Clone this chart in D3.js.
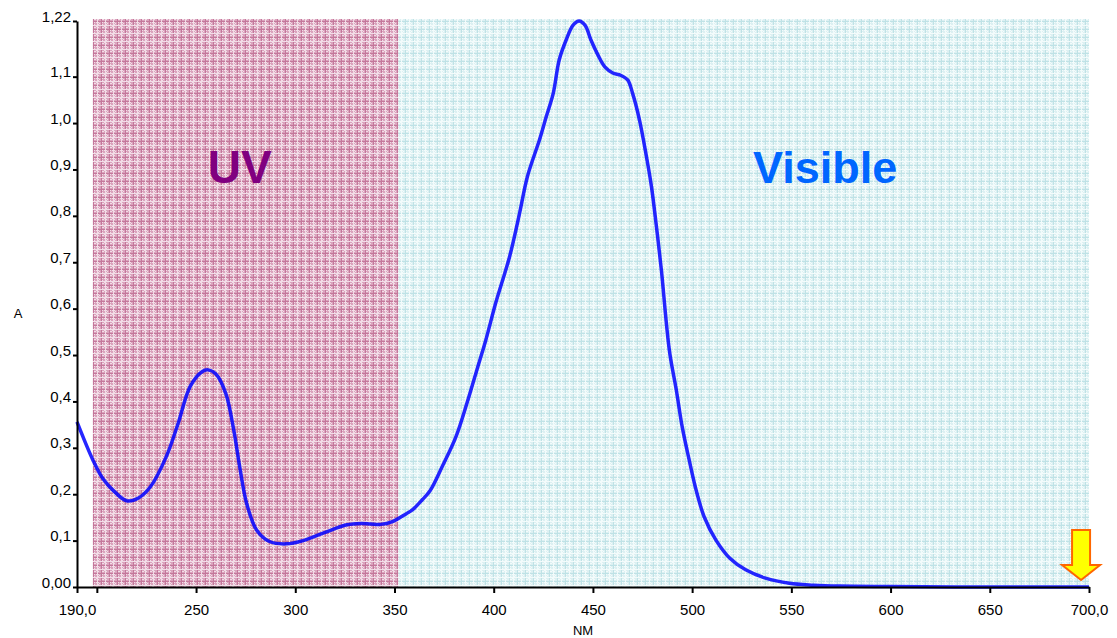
<!DOCTYPE html>
<meta charset="utf-8">
<script src="https://d3js.org/d3.v7.min.js"></script>
<style>
  body { margin: 0; background: #fff; }
  svg { display: block; font-family: "Liberation Sans", Arial, sans-serif; }
</style>
<div id="chart"></div>
<script>
  // spectrum: wavelength (nm) and absorbance (A)
  const wavelengths = [190, 198, 203, 209, 215, 221, 227, 235, 241, 247, 253, 256, 260, 265, 269, 272, 275.5, 280.5, 287, 295.5, 304, 314, 326, 333, 338, 343, 349, 356, 359, 364, 368, 374, 381, 387, 392, 396, 401, 408, 413, 417, 423, 426.5, 430, 433, 436.5, 440, 443, 446, 449, 452.5, 456, 460, 464, 467.5, 470, 473.5, 477, 479.5, 482, 484.5, 488.5, 492, 495, 498.5, 502, 506, 512, 519, 527, 537, 549, 561, 574, 600, 650, 700];
  const absorbance  = [0.356, 0.274, 0.234, 0.205, 0.186, 0.192, 0.216, 0.281, 0.353, 0.432, 0.464, 0.468, 0.459, 0.417, 0.338, 0.259, 0.180, 0.123, 0.098, 0.093, 0.100, 0.116, 0.134, 0.137, 0.136, 0.135, 0.141, 0.158, 0.166, 0.188, 0.208, 0.259, 0.324, 0.403, 0.475, 0.532, 0.612, 0.712, 0.805, 0.885, 0.963, 1.014, 1.064, 1.136, 1.179, 1.211, 1.220, 1.211, 1.179, 1.147, 1.121, 1.108, 1.103, 1.093, 1.064, 1.006, 0.927, 0.863, 0.777, 0.683, 0.511, 0.425, 0.345, 0.274, 0.209, 0.152, 0.101, 0.062, 0.037, 0.019, 0.008, 0.004, 0.002, 0.001, 0.0, 0.0];

  // shaded regions
  const regionNames = ["UV", "Visible"];
  const regionStart = [198, 352];
  const regionEnd   = [352, 700];

  // axis ticks
  const xTicks = [190, 200, 250, 300, 350, 400, 450, 500, 550, 600, 650, 700];
  const xTickLabels = ["190,0", "", "250", "300", "350", "400", "450", "500", "550", "600", "650", "700,0"];
  const yTicks = [0, 0.1, 0.2, 0.3, 0.4, 0.5, 0.6, 0.7, 0.8, 0.9, 1.0, 1.1, 1.22];
  const yTickLabels = ["0,00", "0,1", "0,2", "0,3", "0,4", "0,5", "0,6", "0,7", "0,8", "0,9", "1,0", "1,1", "1,22"];

  const data = wavelengths.map((w, i) => ({ nm: w, a: absorbance[i] }));

  const W = 1117, H = 638;
  const margin = { top: 21, right: 28, bottom: 51, left: 77 };
  const width = W - margin.left - margin.right,
        height = H - margin.top - margin.bottom;

  const svg = d3.select("#chart").append("svg")
      .attr("width", W)
      .attr("height", H);

  // patterns for the two regions
  const defs = svg.append("defs");
  function plaid(id, base, dark, light) {
    const p = defs.append("pattern")
        .attr("id", id)
        .attr("patternUnits", "userSpaceOnUse")
        .attr("width", 8).attr("height", 8);
    p.append("rect").attr("width", 8).attr("height", 8).attr("fill", base);
    // dither dots
    [[1,1],[3,1],[5,1],[1,3],[5,3],[3,5],[1,6],[5,6],[6,2],[2,6]].forEach(([dx, dy]) => {
      p.append("rect").attr("x", dx).attr("y", dy).attr("width", 1).attr("height", 1).attr("fill", light);
    });
    p.append("rect").attr("x", 0).attr("y", 0).attr("width", 1).attr("height", 8).attr("fill", dark);
    p.append("rect").attr("x", 0).attr("y", 0).attr("width", 8).attr("height", 1).attr("fill", dark);
    p.append("rect").attr("x", 4).attr("y", 0).attr("width", 1).attr("height", 8).attr("fill", light);
    p.append("rect").attr("x", 0).attr("y", 4).attr("width", 8).attr("height", 1).attr("fill", light);
  }
  plaid("uvPat", "#dba3bd", "#c4789b", "#f2dde7");
  plaid("visPat", "#dcf0f2", "#bfe2e6", "#f3fbfb");

  const g = svg.append("g")
      .attr("transform", `translate(${margin.left}, ${margin.top})`);

  const x = d3.scaleLinear().domain([190, 700]).range([0, width]);
  const y = d3.scaleLinear().domain([0, 1.22]).range([height, 0]);

  // region backgrounds
  g.selectAll("rect.region")
    .data(regionNames)
    .join("rect")
      .attr("class", "region")
      .attr("x", (d, i) => x(regionStart[i]))
      .attr("y", -2)
      .attr("width", (d, i) => x(regionEnd[i]) - x(regionStart[i]))
      .attr("height", height + 2)
      .attr("fill", (d, i) => i === 0 ? "url(#uvPat)" : "url(#visPat)");

  // region labels
  g.append("text")
    .attr("x", x(272))
    .attr("y", y(0.87))
    .attr("text-anchor", "middle")
    .attr("fill", "#800080")
    .style("font-size", "46px")
    .style("font-weight", "bold")
    .text(regionNames[0]);
  g.append("text")
    .attr("x", x(567))
    .attr("y", y(0.87))
    .attr("text-anchor", "middle")
    .attr("fill", "#0066ff")
    .style("font-size", "45px")
    .style("font-weight", "bold")
    .text(regionNames[1]);

  // absorbance curve
  g.append("path")
    .datum(data)
    .attr("fill", "none")
    .attr("stroke", "#0000ff")
    .attr("stroke-opacity", 0.85)
    .attr("stroke-width", 3.5)
    .attr("stroke-linejoin", "round")
    .attr("d", d3.line()
      .x(d => x(d.nm))
      .y(d => y(d.a))
      .curve(d3.curveCatmullRom.alpha(0.5)));

  // axes
  const xAxis = g.append("g")
    .attr("transform", `translate(0, ${height})`)
    .call(d3.axisBottom(x).tickValues(xTicks)
      .tickFormat((d, i) => xTickLabels[i]).tickSize(6).tickSizeOuter(0));
  const yAxis = g.append("g")
    .call(d3.axisLeft(y).tickValues(yTicks)
      .tickFormat((d, i) => yTickLabels[i]).tickSize(4).tickSizeOuter(0));

  [xAxis, yAxis].forEach(a => {
    a.attr("font-size", null).attr("font-family", null);
    a.select(".domain").attr("stroke", "#000").attr("stroke-width", 2);
    a.selectAll(".tick line").attr("stroke", "#000").attr("stroke-width", 2);
    a.selectAll(".tick text").attr("fill", "#000")
      .style("font-size", "15px").style("font-family", "Liberation Sans, Arial, sans-serif");
  });
  xAxis.selectAll(".tick text").attr("y", 28).attr("dy", 0);
  yAxis.selectAll(".tick text").attr("x", -6).attr("dy", 0);

  // axis titles
  g.append("text")
    .attr("x", x(445))
    .attr("y", height + 48)
    .attr("text-anchor", "middle")
    .style("font-size", "13px")
    .text("NM");
  g.append("text")
    .attr("x", -59)
    .attr("y", y(0.58))
    .attr("text-anchor", "middle")
    .style("font-size", "13px")
    .text("A");

  // end-of-scan arrow marker
  const ax = x(696), ay = y(0);
  const arrow = [[-9, -57], [9, -57], [9, -22], [19, -22], [0, -7], [-19, -22], [-9, -22]];
  g.append("path")
    .attr("d", d3.line()(arrow.map(p => [ax + p[0], ay + p[1]])) + "Z")
    .attr("fill", "#ffff00")
    .attr("stroke", "#ff6600")
    .attr("stroke-width", 2)
    .attr("stroke-linejoin", "miter");
</script>
